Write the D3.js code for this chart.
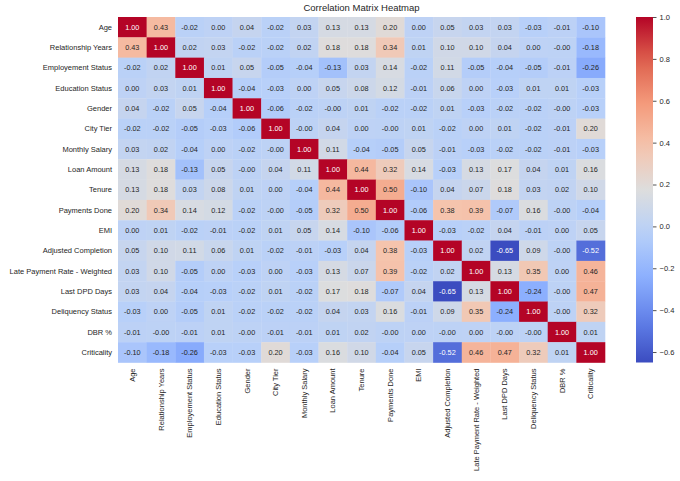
<!DOCTYPE html>
<html>
<head>
<meta charset="utf-8">
<script src="https://cdn.jsdelivr.net/npm/d3@7"></script>
<style>
  body { margin: 0; background: #fff; }
  text { font-family: 'Liberation Sans', Arial, sans-serif; }
</style>
</head>
<body>
<div id="graf"></div>
<script>
// variables (rows and columns share the same order)
const variables = ['Age', 'Relationship Years', 'Employement Status', 'Education Status', 'Gender',
  'City Tier', 'Monthly Salary', 'Loan Amount', 'Tenure', 'Payments Done', 'EMI',
  'Adjusted Completion', 'Late Payment Rate - Weighted', 'Last DPD Days', 'Deliquency Status',
  'DBR %', 'Criticality']

// one row per variable; -0.004 is a small negative value shown as -0.00
const rowAge      = [1.00, 0.43, -0.02, 0.00, 0.04, -0.02, 0.03, 0.13, 0.13, 0.20, 0.00, 0.05, 0.03, 0.03, -0.03, -0.01, -0.10]
const rowRelYears = [0.43, 1.00, 0.02, 0.03, -0.02, -0.02, 0.02, 0.18, 0.18, 0.34, 0.01, 0.10, 0.10, 0.04, 0.00, -0.004, -0.18]
const rowEmploy   = [-0.02, 0.02, 1.00, 0.01, 0.05, -0.05, -0.04, -0.13, 0.03, 0.14, -0.02, 0.11, -0.05, -0.04, -0.05, -0.01, -0.26]
const rowEduc     = [0.00, 0.03, 0.01, 1.00, -0.04, -0.03, 0.00, 0.05, 0.08, 0.12, -0.01, 0.06, 0.00, -0.03, 0.01, 0.01, -0.03]
const rowGender   = [0.04, -0.02, 0.05, -0.04, 1.00, -0.06, -0.02, -0.004, 0.01, -0.02, -0.02, 0.01, -0.03, -0.02, -0.02, -0.004, -0.03]
const rowCity     = [-0.02, -0.02, -0.05, -0.03, -0.06, 1.00, -0.004, 0.04, 0.00, -0.004, 0.01, -0.02, 0.00, 0.01, -0.02, -0.01, 0.20]
const rowSalary   = [0.03, 0.02, -0.04, 0.00, -0.02, -0.004, 1.00, 0.11, -0.04, -0.05, 0.05, -0.01, -0.03, -0.02, -0.02, -0.01, -0.03]
const rowLoan     = [0.13, 0.18, -0.13, 0.05, -0.004, 0.04, 0.11, 1.00, 0.44, 0.32, 0.14, -0.03, 0.13, 0.17, 0.04, 0.01, 0.16]
const rowTenure   = [0.13, 0.18, 0.03, 0.08, 0.01, 0.00, -0.04, 0.44, 1.00, 0.50, -0.10, 0.04, 0.07, 0.18, 0.03, 0.02, 0.10]
const rowPayments = [0.20, 0.34, 0.14, 0.12, -0.02, -0.004, -0.05, 0.32, 0.50, 1.00, -0.06, 0.38, 0.39, -0.07, 0.16, -0.004, -0.04]
const rowEMI      = [0.00, 0.01, -0.02, -0.01, -0.02, 0.01, 0.05, 0.14, -0.10, -0.06, 1.00, -0.03, -0.02, 0.04, -0.01, 0.00, 0.05]
const rowAdjComp  = [0.05, 0.10, 0.11, 0.06, 0.01, -0.02, -0.01, -0.03, 0.04, 0.38, -0.03, 1.00, 0.02, -0.65, 0.09, -0.004, -0.52]
const rowLatePay  = [0.03, 0.10, -0.05, 0.00, -0.03, 0.00, -0.03, 0.13, 0.07, 0.39, -0.02, 0.02, 1.00, 0.13, 0.35, 0.00, 0.46]
const rowLastDPD  = [0.03, 0.04, -0.04, -0.03, -0.02, 0.01, -0.02, 0.17, 0.18, -0.07, 0.04, -0.65, 0.13, 1.00, -0.24, -0.004, 0.47]
const rowDeliq    = [-0.03, 0.00, -0.05, 0.01, -0.02, -0.02, -0.02, 0.04, 0.03, 0.16, -0.01, 0.09, 0.35, -0.24, 1.00, -0.004, 0.32]
const rowDBR      = [-0.01, -0.004, -0.01, 0.01, -0.004, -0.01, -0.01, 0.01, 0.02, -0.004, 0.00, -0.004, 0.00, -0.004, -0.004, 1.00, 0.01]
const rowCrit     = [-0.10, -0.18, -0.26, -0.03, -0.03, 0.20, -0.03, 0.16, 0.10, -0.04, 0.05, -0.52, 0.46, 0.47, 0.32, 0.01, 1.00]

const matrix = [rowAge, rowRelYears, rowEmploy, rowEduc, rowGender, rowCity, rowSalary, rowLoan,
  rowTenure, rowPayments, rowEMI, rowAdjComp, rowLatePay, rowLastDPD, rowDeliq, rowDBR, rowCrit]

const cbarTicks = [-0.6, -0.4, -0.2, 0.0, 0.2, 0.4, 0.6, 0.8, 1.0]

const anchoTotal = 680
const altoTotal = 481

const svg = d3.select('#graf')
  .append('svg')
  .attr('width', anchoTotal)
  .attr('height', altoTotal)

// heatmap area
const izq = 118, der = 605, arriba = 17, abajo = 362.5

const x = d3.scaleBand().domain(variables).range([izq, der])
const y = d3.scaleBand().domain(variables).range([arriba, abajo])

// matplotlib coolwarm
const coolwarm = d3.scaleLinear()
  .domain([0, 0.125, 0.25, 0.375, 0.5, 0.625, 0.75, 0.875, 1])
  .range(['#3b4cc0', '#6282ea', '#8db0fe', '#b8d0f9', '#dddddd', '#f5c4ad', '#f49a7b', '#de604d', '#b40426'])
  .interpolate(d3.interpolateRgb)

const vmin = d3.min(matrix, r => d3.min(r))
const vmax = d3.max(matrix, r => d3.max(r))
const norm = d3.scaleLinear().domain([vmin, vmax]).range([0, 1]).clamp(true)
const color = v => coolwarm(norm(v))

function luminance(c) {
  const rgb = d3.rgb(c)
  const f = u => { u = u / 255; return u <= 0.03928 ? u / 12.92 : Math.pow((u + 0.055) / 1.055, 2.4) }
  return 0.2126 * f(rgb.r) + 0.7152 * f(rgb.g) + 0.0722 * f(rgb.b)
}

const celdas = []
matrix.forEach((fila, i) => {
  fila.forEach((v, j) => celdas.push({ row: variables[i], col: variables[j], v: v }))
})

const g = svg.append('g')

g.selectAll('rect')
  .data(celdas)
  .enter()
  .append('rect')
  .attr('x', d => x(d.col))
  .attr('y', d => y(d.row))
  .attr('width', x.bandwidth() + 0.3)
  .attr('height', y.bandwidth() + 0.3)
  .attr('fill', d => color(d.v))

g.selectAll('text.annot')
  .data(celdas)
  .enter()
  .append('text')
  .attr('class', 'annot')
  .attr('x', d => x(d.col) + x.bandwidth() / 2)
  .attr('y', d => y(d.row) + y.bandwidth() / 2)
  .attr('dy', '0.35em')
  .attr('text-anchor', 'middle')
  .attr('font-size', 7.3)
  .attr('fill', d => luminance(color(d.v)) > 0.408 ? '#262626' : '#ffffff')
  .text(d => d.v.toFixed(2))

// axis labels
svg.append('g')
  .selectAll('text')
  .data(variables)
  .enter()
  .append('text')
  .attr('x', izq - 6)
  .attr('y', d => y(d) + y.bandwidth() / 2)
  .attr('dy', '0.35em')
  .attr('text-anchor', 'end')
  .attr('font-size', 7.5)
  .attr('fill', '#262626')
  .text(d => d)

svg.append('g')
  .selectAll('text')
  .data(variables)
  .enter()
  .append('text')
  .attr('transform', d => `translate(${x(d) + x.bandwidth() / 2}, ${abajo + 6}) rotate(-90)`)
  .attr('dy', '0.35em')
  .attr('text-anchor', 'end')
  .attr('font-size', 7.5)
  .attr('fill', '#262626')
  .text(d => d)

// title
svg.append('text')
  .attr('x', (izq + der) / 2)
  .attr('y', 11)
  .attr('text-anchor', 'middle')
  .attr('font-size', 9.5)
  .attr('fill', '#262626')
  .text('Correlation Matrix Heatmap')

// colorbar
const cbX = 636, cbW = 17
const cbY = d3.scaleLinear().domain([vmin, vmax]).range([abajo, arriba])

const grad = svg.append('defs')
  .append('linearGradient')
  .attr('id', 'cbar')
  .attr('x1', 0).attr('y1', 1).attr('x2', 0).attr('y2', 0)

grad.selectAll('stop')
  .data(d3.range(0, 1.0001, 0.05))
  .enter()
  .append('stop')
  .attr('offset', d => d)
  .attr('stop-color', d => coolwarm(d))

svg.append('rect')
  .attr('x', cbX)
  .attr('y', arriba)
  .attr('width', cbW)
  .attr('height', abajo - arriba)
  .attr('fill', 'url(#cbar)')

const cbAxis = svg.append('g')
  .attr('transform', `translate(${cbX + cbW}, 0)`)
  .call(d3.axisRight(cbY)
    .tickValues(cbarTicks)
    .tickSize(3.5)
    .tickPadding(3)
    .tickFormat(d => d3.format('.1f')(d)))

cbAxis.select('.domain').remove()
cbAxis.selectAll('line').attr('stroke', '#262626').attr('stroke-width', 0.8)
cbAxis.selectAll('text')
  .attr('font-size', 7.5)
  .attr('fill', '#262626')
  .attr('font-family', "'Liberation Sans', Arial, sans-serif")
</script>
</body>
</html>
